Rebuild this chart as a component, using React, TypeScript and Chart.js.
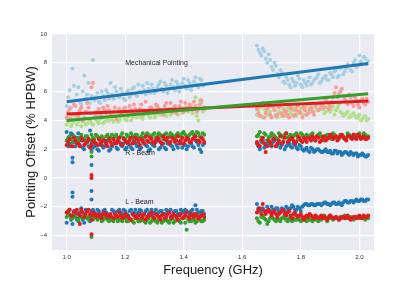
import React, { useEffect, useRef } from "react";
import { Chart, registerables } from "chart.js";

Chart.register(...registerables);

// ---- categories / frequencies (GHz) ----
const FREQ_A = [1.00, 1.01, 1.02, 1.03, 1.04, 1.05, 1.06, 1.07, 1.08, 1.09, 1.10, 1.11, 1.12, 1.13, 1.14, 1.15, 1.16, 1.17, 1.18, 1.19, 1.20, 1.21, 1.22, 1.23, 1.24, 1.25, 1.26, 1.27, 1.28, 1.29, 1.30, 1.31, 1.32, 1.33, 1.34, 1.35, 1.36, 1.37, 1.38, 1.39, 1.40, 1.41, 1.42, 1.43, 1.44, 1.45, 1.46, 1.47];
const FREQ_A2 = [1.005, 1.015, 1.025, 1.035, 1.045, 1.055, 1.065, 1.075, 1.085, 1.095, 1.105, 1.115, 1.125, 1.135, 1.145, 1.155, 1.165, 1.175, 1.185, 1.195, 1.205, 1.215, 1.225, 1.235, 1.245, 1.255, 1.265, 1.275, 1.285, 1.295, 1.305, 1.315, 1.325, 1.335, 1.345, 1.355, 1.365, 1.375, 1.385, 1.395, 1.405, 1.415, 1.425, 1.435, 1.445, 1.455, 1.465];
const FREQ_B = [1.65, 1.66, 1.67, 1.68, 1.69, 1.70, 1.71, 1.72, 1.73, 1.74, 1.75, 1.76, 1.77, 1.78, 1.79, 1.80, 1.81, 1.82, 1.83, 1.84, 1.85, 1.86, 1.87, 1.88, 1.89, 1.90, 1.91, 1.92, 1.93, 1.94, 1.95, 1.96, 1.97, 1.98, 1.99, 2.00, 2.01, 2.02, 2.03];
const FREQ_B2 = [1.655, 1.665, 1.675, 1.685, 1.695, 1.705, 1.715, 1.725, 1.735, 1.745, 1.755, 1.765, 1.775, 1.785, 1.795, 1.805, 1.815, 1.825, 1.835, 1.845, 1.855, 1.865, 1.875, 1.885, 1.895, 1.905, 1.915, 1.925, 1.935, 1.945, 1.955, 1.965, 1.975, 1.985, 1.995, 2.005, 2.015, 2.025];

// ---- Mechanical pointing ----
const mechBlueA = [5.0, 6.1, 7.6, 5.4, 6.3, 5.1, 7.1, 5.8, 5.2, 8.2, 5.6, 5.3, 6.0, 5.4, 5.9, 6.6, 5.5, 6.0, 5.6, 5.9, 5.4, 6.1, 5.8, 6.3, 5.7, 6.0, 6.4, 5.8, 6.2, 6.5, 5.9, 6.3, 6.7, 6.0, 6.4, 6.2, 6.8, 6.1, 6.5, 6.3, 6.9, 6.2, 6.6, 6.4, 7.0, 6.3, 6.8, 6.5];
const mechBlueA2 = [5.6, 4.9, 6.4, 5.8, 5.3, 6.0, 5.5, 6.6, 5.7, 5.4, 5.9, 5.2, 5.7, 6.1, 5.5, 5.8, 6.3, 5.7, 6.2, 5.5, 5.9, 5.6, 6.2, 5.8, 6.5, 5.9, 6.1, 6.6, 5.9, 6.2, 6.0, 6.5, 6.2, 6.6, 5.9, 6.5, 6.3, 6.7, 6.0, 6.6, 6.4, 6.8, 6.1, 6.7, 6.5, 6.9, 6.4];
const mechRedA = [4.2, 4.8, 4.4, 5.0, 4.3, 4.9, 4.1, 5.2, 4.5, 6.6, 4.3, 4.8, 4.2, 4.7, 5.0, 4.4, 4.6, 4.1, 4.8, 4.5, 4.9, 4.3, 4.7, 5.1, 4.5, 4.8, 4.4, 5.3, 4.6, 4.9, 4.5, 5.0, 4.7, 4.4, 5.2, 4.8, 4.6, 5.0, 4.7, 5.3, 4.6, 4.9, 5.1, 4.7, 5.0, 4.8, 5.4, 4.9];
const mechRedA2 = [4.6, 4.1, 5.1, 4.4, 4.7, 4.0, 4.6, 4.9, 6.3, 4.5, 4.6, 4.4, 4.9, 4.5, 4.7, 4.3, 4.9, 4.6, 4.4, 4.8, 4.6, 5.0, 4.5, 4.8, 4.6, 5.1, 4.7, 4.5, 4.9, 4.6, 5.1, 4.8, 4.6, 5.0, 4.7, 5.2, 4.9, 4.5, 5.0, 4.8, 5.2, 4.7, 4.9, 5.3, 4.6, 5.1, 4.8];
const mechGreenA = [3.7, 4.1, 3.8, 4.3, 3.9, 3.6, 4.2, 3.8, 4.0, 3.7, 4.1, 3.8, 4.3, 3.9, 4.0, 4.4, 3.9, 4.2, 4.0, 4.4, 4.1, 4.3, 4.0, 4.5, 4.2, 4.4, 4.1, 4.6, 4.3, 4.5, 4.2, 4.7, 4.4, 4.6, 4.3, 4.8, 4.5, 4.7, 4.4, 4.9, 4.6, 4.8, 5.0, 4.5, 5.6, 4.0, 5.2, 4.7];
const mechGreenA2 = [3.9, 3.6, 4.0, 3.7, 4.1, 3.9, 3.7, 4.1, 3.8, 4.2, 3.9, 4.1, 3.8, 4.2, 4.0, 4.1, 4.3, 3.9, 4.2, 4.3, 4.0, 4.4, 4.2, 4.3, 4.5, 4.2, 4.4, 4.5, 4.2, 4.6, 4.3, 4.5, 4.7, 4.4, 4.6, 4.4, 4.8, 4.5, 4.7, 4.5, 4.9, 4.6, 5.1, 4.8, 4.3, 5.4, 4.6];
const mechBlueB = [9.2, 8.7, 9.0, 8.3, 8.6, 7.7, 8.0, 7.2, 7.5, 6.7, 7.0, 6.5, 6.9, 6.4, 7.1, 6.5, 6.8, 6.4, 7.0, 6.6, 6.9, 7.2, 6.7, 7.0, 6.8, 7.3, 7.0, 7.5, 7.1, 7.7, 7.4, 7.9, 7.5, 8.0, 7.7, 8.5, 7.9, 8.3, 8.1];
const mechBlueB2 = [8.9, 8.5, 8.8, 8.0, 8.2, 7.5, 7.8, 7.0, 7.3, 6.6, 6.8, 6.3, 6.7, 6.6, 6.9, 6.3, 6.6, 6.7, 6.5, 6.8, 7.0, 6.6, 6.9, 7.1, 6.8, 7.2, 7.4, 7.0, 7.6, 7.2, 7.6, 7.8, 7.4, 8.2, 7.8, 8.1, 8.4, 7.9];
const mechRedB = [4.8, 4.3, 5.2, 4.5, 4.9, 4.2, 4.7, 4.4, 5.0, 4.3, 4.6, 4.2, 4.8, 4.4, 5.0, 4.5, 4.9, 4.4, 4.8, 4.6, 5.0, 4.7, 5.2, 4.9, 5.3, 5.0, 5.6, 6.3, 5.8, 6.2, 5.5, 5.1, 5.6, 5.0, 5.4, 4.9, 5.5, 5.1, 5.3];
const mechRedB2 = [4.5, 5.0, 4.2, 4.8, 4.4, 5.0, 4.3, 4.9, 4.5, 4.7, 4.4, 4.9, 4.3, 4.7, 4.6, 4.2, 4.7, 4.5, 4.9, 4.4, 5.1, 4.8, 5.0, 5.4, 4.8, 5.3, 5.9, 5.6, 6.0, 5.7, 5.3, 5.8, 5.2, 5.6, 5.1, 5.4, 5.2, 5.5];
const mechGreenB = [4.4, 4.9, 4.2, 4.6, 5.0, 4.3, 4.7, 4.2, 4.5, 4.8, 4.3, 4.7, 4.4, 4.9, 4.5, 4.8, 4.4, 5.0, 4.6, 4.8, 5.1, 4.7, 5.0, 4.5, 4.9, 4.6, 5.0, 4.7, 5.1, 4.5, 4.4, 4.6, 4.3, 4.5, 4.2, 4.4, 4.1, 4.3, 4.1];
const mechGreenB2 = [4.7, 4.3, 4.8, 4.4, 4.6, 4.9, 4.4, 4.6, 4.3, 4.5, 4.9, 4.5, 4.7, 4.3, 4.6, 4.9, 4.7, 4.5, 4.9, 4.6, 4.8, 5.2, 4.8, 4.6, 5.0, 4.8, 4.4, 4.9, 4.6, 4.3, 4.5, 4.2, 4.4, 4.3, 4.2, 4.0, 4.2, 4.0];

// ---- R - Beam ----
const rBlueA = [3.2, 2.4, 3.0, 2.2, 3.1, 2.6, 2.0, 2.5, 3.3, 2.1, 2.4, 1.9, 2.5, 2.2, 2.6, 2.0, 2.4, 2.1, 2.5, 2.2, 2.0, 2.4, 2.1, 2.6, 2.2, 2.0, 2.5, 2.3, 1.9, 2.4, 2.2, 2.6, 2.1, 2.4, 2.0, 2.5, 2.2, 2.6, 2.1, 2.4, 2.3, 2.0, 2.5, 2.2, 2.6, 2.3, 1.8, 2.4];
const rBlueA2 = [2.2, 3.1, 2.5, 2.8, 2.3, 2.1, 2.6, 2.2, 2.4, 2.2, 2.0, 2.3, 2.1, 2.5, 1.9, 2.2, 2.4, 2.0, 2.3, 2.4, 2.1, 2.3, 2.0, 2.4, 2.2, 2.1, 2.4, 2.2, 2.0, 2.3, 2.5, 2.0, 2.3, 2.1, 2.4, 2.3, 2.0, 2.3, 2.5, 2.1, 2.3, 2.2, 2.4, 2.1, 2.5, 2.0, 2.3];
const rRedA = [2.3, 2.7, 2.2, 2.6, 2.4, 2.8, 2.3, 2.5, 2.1, 2.6, 2.4, 2.7, 2.3, 2.6, 2.2, 2.5, 2.7, 2.4, 2.8, 2.3, 2.6, 2.4, 2.8, 2.5, 2.7, 2.3, 2.6, 2.9, 2.5, 2.7, 2.4, 2.8, 2.5, 2.9, 2.6, 2.4, 2.8, 2.5, 2.9, 2.6, 2.4, 2.8, 2.5, 2.7, 2.9, 2.6, 2.8, 2.5];
const rRedA2 = [2.5, 2.2, 2.8, 2.4, 2.2, 2.6, 2.4, 2.7, 2.3, 2.5, 2.3, 2.5, 2.6, 2.4, 2.7, 2.3, 2.5, 2.6, 2.4, 2.7, 2.5, 2.6, 2.4, 2.8, 2.5, 2.7, 2.4, 2.6, 2.8, 2.5, 2.6, 2.7, 2.4, 2.7, 2.8, 2.5, 2.7, 2.6, 2.4, 2.8, 2.6, 2.7, 2.5, 2.8, 2.6, 2.5, 2.7];
const rGreenA = [2.6, 2.9, 2.5, 2.8, 2.6, 3.0, 2.7, 2.9, 2.6, 2.8, 3.0, 2.7, 2.9, 2.6, 3.0, 2.8, 2.7, 3.0, 2.8, 3.1, 2.7, 2.9, 3.1, 2.8, 3.0, 2.7, 3.1, 2.9, 3.0, 2.8, 3.1, 2.9, 3.0, 2.7, 3.1, 2.9, 3.0, 2.8, 3.1, 2.9, 3.2, 2.8, 3.0, 3.2, 2.9, 3.1, 2.8, 3.0];
const rGreenA2 = [2.8, 2.7, 2.9, 2.6, 2.8, 2.7, 2.9, 2.7, 3.0, 2.7, 2.9, 2.8, 2.7, 2.9, 2.8, 3.0, 2.9, 2.8, 2.9, 2.8, 3.0, 2.8, 2.9, 3.0, 2.8, 2.9, 2.8, 3.1, 2.9, 3.0, 2.8, 3.1, 2.9, 3.0, 2.8, 3.1, 2.9, 3.0, 2.9, 3.1, 3.0, 2.9, 3.1, 3.0, 3.2, 2.9, 3.1];
const rBlueB = [2.4, 2.0, 2.6, 2.3, 2.5, 2.2, 2.6, 2.3, 2.1, 2.5, 2.2, 2.4, 2.1, 2.3, 2.0, 2.2, 1.9, 2.1, 1.8, 2.0, 1.9, 2.0, 1.8, 1.9, 1.8, 1.9, 1.7, 1.9, 1.8, 1.6, 1.8, 1.7, 1.8, 1.6, 1.7, 1.6, 1.7, 1.5, 1.6];
const rBlueB2 = [2.2, 2.5, 2.1, 2.4, 2.3, 2.5, 2.2, 2.4, 2.3, 2.0, 2.3, 2.2, 2.4, 2.1, 2.3, 2.0, 2.0, 1.9, 2.1, 1.8, 2.0, 1.9, 1.8, 2.0, 1.8, 1.7, 1.9, 1.7, 1.8, 1.7, 1.8, 1.6, 1.7, 1.7, 1.5, 1.6, 1.6, 1.5];
const rRedB = [2.5, 2.2, 2.8, 1.8, 2.6, 2.3, 2.7, 2.4, 2.9, 2.5, 3.1, 2.6, 2.8, 2.4, 2.9, 2.6, 2.8, 2.5, 2.7, 2.9, 2.6, 2.8, 2.6, 2.9, 2.7, 3.0, 2.7, 2.9, 2.8, 3.0, 2.7, 2.9, 2.8, 3.0, 2.7, 2.9, 2.8, 2.7, 2.8];
const rRedB2 = [2.3, 2.6, 2.4, 2.2, 2.5, 2.7, 2.2, 2.6, 2.4, 2.8, 2.5, 2.7, 2.6, 2.5, 2.8, 2.5, 2.7, 2.8, 2.6, 2.7, 2.9, 2.5, 2.8, 2.6, 2.8, 2.9, 2.8, 2.6, 2.9, 2.8, 2.6, 2.9, 2.7, 2.8, 3.0, 2.7, 2.9, 2.7];
const rGreenB = [2.9, 3.2, 2.7, 3.0, 2.8, 3.1, 2.9, 2.7, 3.0, 2.8, 3.1, 2.9, 2.8, 3.0, 2.7, 3.1, 2.9, 3.0, 2.8, 3.1, 2.6, 3.0, 2.9, 2.6, 3.0, 2.8, 3.1, 2.9, 2.7, 3.0, 2.8, 3.1, 2.9, 3.0, 2.8, 3.1, 2.9, 3.0, 2.9];
const rGreenB2 = [3.0, 2.8, 3.1, 2.6, 2.9, 3.0, 2.8, 3.1, 2.9, 3.0, 2.8, 3.0, 2.9, 3.1, 2.8, 3.0, 2.6, 2.9, 3.0, 2.8, 2.9, 3.1, 2.8, 2.9, 3.0, 2.7, 3.0, 2.8, 3.0, 2.9, 2.7, 3.0, 2.8, 3.0, 2.9, 2.8, 3.1, 2.9];

// ---- L - Beam ----
const lBlueA = [-3.1, -2.2, -3.2, -2.4, -3.0, -2.1, -3.1, -2.3, -3.0, -2.2, -2.5, -2.3, -2.6, -2.2, -2.5, -2.9, -2.3, -2.6, -2.2, -2.5, -2.3, -2.6, -2.2, -2.4, -2.5, -2.2, -2.6, -2.3, -2.5, -2.2, -2.4, -2.6, -2.3, -2.5, -2.2, -2.4, -2.6, -2.3, -2.5, -2.2, -2.4, -2.3, -2.6, -2.2, -1.9, -2.4, -2.3, -2.5];
const lBlueA2 = [-2.5, -2.9, -2.3, -2.8, -2.4, -2.9, -2.2, -2.7, -2.3, -2.4, -2.2, -2.5, -2.3, -2.4, -2.6, -2.2, -2.4, -2.3, -2.4, -2.2, -2.5, -2.3, -2.5, -2.2, -2.4, -2.3, -2.5, -2.2, -2.4, -2.5, -2.2, -2.4, -2.3, -2.5, -2.3, -2.2, -2.4, -2.3, -2.5, -2.3, -2.2, -2.4, -2.3, -2.5, -2.2, -2.4, -2.3];
const lRedA = [-2.4, -2.2, -2.6, -2.3, -2.5, -2.2, -2.7, -2.3, -2.5, -2.4, -2.7, -2.5, -2.8, -2.4, -2.7, -2.5, -2.8, -2.6, -2.4, -2.8, -2.5, -2.7, -2.9, -2.6, -2.8, -2.5, -2.7, -2.9, -2.6, -2.4, -2.8, -2.6, -2.9, -2.5, -2.7, -2.4, -2.8, -2.6, -2.9, -2.5, -2.7, -2.4, -2.8, -2.6, -2.5, -2.8, -2.6, -2.7];
const lRedA2 = [-2.3, -2.6, -2.4, -2.2, -2.6, -2.4, -2.5, -2.2, -2.6, -2.5, -2.6, -2.7, -2.5, -2.6, -2.6, -2.7, -2.5, -2.7, -2.6, -2.7, -2.6, -2.8, -2.5, -2.7, -2.6, -2.8, -2.5, -2.7, -2.6, -2.7, -2.5, -2.7, -2.6, -2.8, -2.5, -2.7, -2.5, -2.7, -2.6, -2.8, -2.6, -2.7, -2.5, -2.7, -2.6, -2.7, -2.5];
const lGreenA = [-2.7, -2.5, -2.8, -2.6, -2.9, -2.7, -2.6, -2.8, -2.6, -2.9, -2.7, -2.8, -3.0, -2.7, -2.9, -2.8, -3.0, -2.8, -2.9, -3.0, -2.8, -3.0, -2.9, -3.1, -2.8, -3.0, -2.9, -3.1, -2.8, -3.0, -2.9, -3.1, -2.8, -3.0, -2.9, -3.1, -2.8, -3.0, -2.9, -3.1, -2.8, -3.6, -3.0, -2.9, -3.1, -2.8, -3.0, -2.9];
const lGreenA2 = [-2.6, -2.8, -2.7, -2.9, -2.7, -2.8, -2.7, -2.9, -2.8, -2.7, -2.9, -2.8, -2.9, -2.8, -3.0, -2.9, -2.8, -3.0, -2.9, -2.8, -3.0, -2.9, -3.0, -2.8, -3.0, -2.9, -3.0, -2.9, -3.1, -2.9, -3.0, -2.9, -3.1, -2.9, -3.0, -2.9, -3.1, -2.9, -3.0, -2.8, -3.1, -2.9, -3.0, -2.9, -3.0, -2.9, -3.0];
const lBlueB = [-1.8, -2.3, -2.1, -2.4, -2.2, -2.0, -2.3, -2.1, -2.4, -2.2, -2.0, -2.3, -1.9, -2.2, -2.0, -2.3, -1.9, -1.8, -1.9, -1.8, -1.9, -1.8, -1.9, -1.7, -1.8, -1.9, -1.7, -1.8, -1.7, -1.9, -1.6, -1.7, -1.6, -1.7, -1.5, -1.6, -1.5, -1.6, -1.5];
const lBlueB2 = [-2.1, -2.2, -2.3, -2.0, -2.3, -2.2, -2.1, -2.3, -2.1, -2.3, -2.1, -2.1, -2.0, -2.2, -2.1, -2.0, -1.8, -1.9, -1.8, -1.9, -1.8, -1.8, -1.8, -1.7, -1.8, -1.8, -1.7, -1.8, -1.8, -1.7, -1.6, -1.7, -1.6, -1.6, -1.6, -1.5, -1.6, -1.5];
const lRedB = [-2.4, -2.1, -1.8, -2.5, -2.2, -2.6, -2.3, -2.7, -2.4, -2.2, -2.6, -2.3, -2.8, -2.4, -2.7, -2.5, -2.9, -2.6, -2.5, -2.7, -2.6, -2.8, -2.6, -2.7, -2.9, -2.6, -2.8, -2.7, -2.9, -2.7, -2.8, -2.6, -2.9, -2.7, -2.8, -2.6, -2.8, -2.7, -2.6];
const lRedB2 = [-2.2, -2.5, -2.3, -2.3, -2.4, -2.4, -2.5, -2.5, -2.3, -2.5, -2.4, -2.6, -2.5, -2.6, -2.6, -2.7, -2.7, -2.7, -2.6, -2.8, -2.7, -2.7, -2.8, -2.8, -2.7, -2.7, -2.8, -2.8, -2.8, -2.7, -2.7, -2.8, -2.8, -2.7, -2.7, -2.7, -2.6, -2.7];
const lGreenB = [-2.8, -3.1, -2.6, -2.9, -3.0, -2.7, -2.9, -2.8, -3.0, -2.7, -2.9, -2.8, -3.0, -2.9, -2.7, -3.0, -2.8, -3.0, -2.9, -3.0, -2.8, -3.0, -2.9, -2.6, -3.0, -2.6, -2.9, -2.7, -2.9, -2.8, -2.6, -2.8, -2.7, -2.9, -2.7, -2.8, -2.7, -2.9, -2.8];
const lGreenB2 = [-3.0, -2.7, -2.8, -3.2, -2.8, -2.8, -3.0, -2.9, -2.8, -2.8, -3.0, -2.9, -2.8, -2.9, -2.9, -2.9, -2.9, -2.8, -2.9, -2.9, -2.9, -2.8, -2.7, -2.8, -2.8, -2.8, -2.8, -2.8, -2.7, -2.7, -2.7, -2.8, -2.8, -2.8, -2.7, -2.8, -2.8, -2.8];

// ---- outliers near band edge ----
const OUT_BLUE_X = [1.02, 1.02, 1.02, 1.02, 1.085, 1.085, 1.085, 1.085];
const OUT_BLUE_Y = [1.4, 1.1, -1.0, -1.3, 0.9, -0.9, -1.5, 1.9];
const OUT_RED_X = [1.045, 1.085, 1.085, 1.085, 1.085];
const OUT_RED_Y = [-3.2, 0.2, 0.0, -3.9, -2.9];
const OUT_GREEN_X = [1.085, 1.085, 1.085];
const OUT_GREEN_Y = [1.8, 1.5, -4.1];

// ---- linear fits of mechanical pointing ----
const FIT_X = [1.0, 2.03];
const FIT_BLUE = [5.3, 7.95];
const FIT_GREEN = [4.0, 5.85];
const FIT_RED = [4.45, 5.35];

// ---- ticks and labels ----
const X_TICKS = [1.0, 1.2, 1.4, 1.6, 1.8, 2.0];
const Y_TICKS = [-4, -2, 0, 2, 4, 6, 8, 10];
const LABEL_TEXT = ["Mechanical Pointing", "R - Beam", "L - Beam"];
const LABEL_X = [1.2, 1.2, 1.2];
const LABEL_Y = [7.95, 1.72, -1.65];

const FONT = "'Liberation Sans', Arial, sans-serif";
const C = {
  lightBlue: "#a6cee3",
  blue: "#1f78b4",
  lightGreen: "#b2df8a",
  green: "#33a02c",
  lightRed: "#fb9a99",
  red: "#e31a1c",
};

const pts = (xs: number[], ys: number[]) => xs.map((x, i) => ({ x, y: ys[i] }));

function scatter(color: string, data: { x: number; y: number }[]) {
  return {
    data,
    backgroundColor: color,
    borderColor: color,
    borderWidth: 0,
    pointRadius: 2,
    pointHoverRadius: 2,
    showLine: false,
  };
}

function fitLine(color: string, ys: number[]) {
  return {
    data: pts(FIT_X, ys),
    borderColor: color,
    backgroundColor: color,
    borderWidth: 3,
    pointRadius: 0,
    showLine: true,
    fill: false,
  };
}

const bgPlugin = {
  id: "bg",
  beforeDraw(chart: any) {
    const { ctx, chartArea, width, height } = chart;
    ctx.save();
    ctx.fillStyle = "#ffffff";
    ctx.fillRect(0, 0, width, height);
    ctx.fillStyle = "#eaeaf2";
    ctx.fillRect(chartArea.left, chartArea.top, chartArea.right - chartArea.left, chartArea.bottom - chartArea.top);
    ctx.restore();
  },
};

const labelPlugin = {
  id: "labels",
  afterDatasetsDraw(chart: any) {
    const { ctx, scales } = chart;
    ctx.save();
    ctx.font = `7px ${FONT}`;
    ctx.fillStyle = "#222";
    ctx.textAlign = "left";
    ctx.textBaseline = "middle";
    LABEL_TEXT.forEach((t, i) => {
      ctx.fillText(t, scales.x.getPixelForValue(LABEL_X[i]), scales.y.getPixelForValue(LABEL_Y[i]));
    });
    ctx.restore();
  },
};

export default function App() {
  const ref = useRef<HTMLCanvasElement>(null);
  useEffect(() => {
    document.body.style.margin = "0";
    const canvas = ref.current;
    if (!canvas) return;
    const datasets: any[] = [
      fitLine(C.blue, FIT_BLUE),
      fitLine(C.green, FIT_GREEN),
      fitLine(C.red, FIT_RED),
      scatter(C.red, [
        ...pts(FREQ_A, lRedA), ...pts(FREQ_A2, lRedA2), ...pts(FREQ_B, lRedB), ...pts(FREQ_B2, lRedB2),
        ...pts(FREQ_A, rRedA), ...pts(FREQ_A2, rRedA2), ...pts(FREQ_B, rRedB), ...pts(FREQ_B2, rRedB2),
        ...pts(OUT_RED_X, OUT_RED_Y),
      ]),
      scatter(C.green, [
        ...pts(FREQ_A, lGreenA), ...pts(FREQ_A2, lGreenA2), ...pts(FREQ_B, lGreenB), ...pts(FREQ_B2, lGreenB2),
        ...pts(FREQ_A, rGreenA), ...pts(FREQ_A2, rGreenA2), ...pts(FREQ_B, rGreenB), ...pts(FREQ_B2, rGreenB2),
        ...pts(OUT_GREEN_X, OUT_GREEN_Y),
      ]),
      scatter(C.blue, [
        ...pts(FREQ_A, lBlueA), ...pts(FREQ_A2, lBlueA2), ...pts(FREQ_B, lBlueB), ...pts(FREQ_B2, lBlueB2),
        ...pts(FREQ_A, rBlueA), ...pts(FREQ_A2, rBlueA2), ...pts(FREQ_B, rBlueB), ...pts(FREQ_B2, rBlueB2),
        ...pts(OUT_BLUE_X, OUT_BLUE_Y),
      ]),
      scatter(C.lightRed, [...pts(FREQ_A, mechRedA), ...pts(FREQ_A2, mechRedA2), ...pts(FREQ_B, mechRedB), ...pts(FREQ_B2, mechRedB2)]),
      scatter(C.lightGreen, [...pts(FREQ_A, mechGreenA), ...pts(FREQ_A2, mechGreenA2), ...pts(FREQ_B, mechGreenB), ...pts(FREQ_B2, mechGreenB2)]),
      scatter(C.lightBlue, [...pts(FREQ_A, mechBlueA), ...pts(FREQ_A2, mechBlueA2), ...pts(FREQ_B, mechBlueB), ...pts(FREQ_B2, mechBlueB2)]),
    ];
    const chart = new Chart(canvas, {
      type: "scatter",
      data: { datasets },
      options: {
        animation: false,
        responsive: false,
        devicePixelRatio: 1,
        layout: { padding: { left: 0, right: 41, top: 34, bottom: 0 } },
        plugins: { legend: { display: false }, tooltip: { enabled: false } },
        scales: {
          x: {
            type: "linear",
            min: 0.95,
            max: 2.05,
            afterBuildTicks: (s: any) => {
              s.ticks = X_TICKS.map((v) => ({ value: v }));
            },
            afterFit: (s: any) => {
              s.height = 36;
            },
            border: { display: false },
            grid: { color: "#ffffff", lineWidth: 1.2, drawTicks: false },
            ticks: {
              padding: 4,
              color: "#333",
              font: { size: 6, family: FONT },
              maxRotation: 0,
              autoSkip: false,
              callback: (v: any) => Number(v).toFixed(1),
            },
            title: {
              display: true,
              text: "Frequency (GHz)",
              color: "#1a1a1a",
              font: { size: 13, family: FONT },
              padding: { top: 0, bottom: 8 },
            },
          },
          y: {
            type: "linear",
            min: -5,
            max: 10,
            afterBuildTicks: (s: any) => {
              s.ticks = Y_TICKS.map((v) => ({ value: v }));
            },
            afterFit: (s: any) => {
              s.width = 52;
            },
            border: { display: false },
            grid: { color: "#ffffff", lineWidth: 1.2, drawTicks: false },
            ticks: {
              padding: 5,
              color: "#333",
              font: { size: 6, family: FONT },
              autoSkip: false,
              callback: (v: any) => (Number(v) < 0 ? "\u2212" + Math.abs(Number(v)) : String(v)),
            },
            title: {
              display: true,
              text: "Pointing Offset (% HPBW)",
              color: "#1a1a1a",
              font: { size: 13, family: FONT },
              padding: { top: 24, bottom: 0 },
            },
          },
        },
      },
      plugins: [bgPlugin, labelPlugin],
    });
    return () => chart.destroy();
  }, []);
  return <canvas ref={ref} width={415} height={286} style={{ display: "block", width: 415, height: 286 }} />;
}
